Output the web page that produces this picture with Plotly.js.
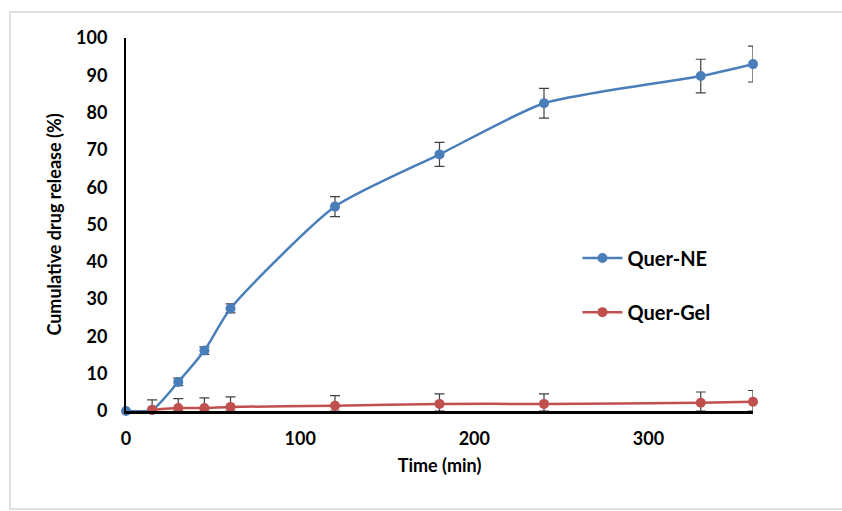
<!DOCTYPE html>
<html>
<head>
<meta charset="utf-8">
<script src="https://cdn.plot.ly/plotly-3.0.1.min.js"></script>
<style>html,body{margin:0;padding:0;background:#fff;}#chart{width:842px;height:511px;}</style>
</head>
<body>
<div id="chart"></div>
<script>
const timeNE = [0, 15, 30, 45, 60, 120, 180, 240, 330, 360];
const releaseNE = [0, 0.3, 7.8, 16.2, 27.5, 54.8, 68.8, 82.5, 89.8, 93.0];
const errNE = [0, 0, 1.0, 1.0, 1.2, 2.7, 3.2, 4.0, 4.5, 4.8];

const timeGel = [15, 30, 45, 60, 120, 180, 240, 330, 360];
const releaseGel = [0.3, 0.8, 0.8, 1.1, 1.4, 1.9, 1.9, 2.2, 2.5];
const errGel = [2.7, 2.5, 2.7, 2.7, 2.7, 2.7, 2.7, 2.9, 3.0];

const xTicks = [0, 100, 200, 300];
const yTicks = [0, 10, 20, 30, 40, 50, 60, 70, 80, 90, 100];

const FONT = 'Lato, "Open Sans", sans-serif';
const blue = '#4A7EBB';
const red = '#C0504D';

const traces = [
  {
    x: timeNE, y: releaseNE, name: 'Quer-NE', type: 'scatter', mode: 'lines+markers',
    line: {color: blue, width: 2.5, shape: 'spline', smoothing: 0.6},
    marker: {color: blue, size: 10},
    error_y: {type: 'data', array: errNE, visible: true, color: '#404040', thickness: 1.2, width: 5},
    cliponaxis: false, legend: 'legend'
  },
  {
    x: timeGel, y: releaseGel, name: 'Quer-Gel', type: 'scatter', mode: 'lines+markers',
    line: {color: red, width: 2.5, shape: 'spline', smoothing: 0.6},
    marker: {color: red, size: 10},
    error_y: {type: 'data', array: errGel, arrayminus: releaseGel.map((v, i) => Math.min(v, errGel[i])),
              visible: true, color: '#404040', thickness: 1.2, width: 5},
    cliponaxis: false, legend: 'legend2'
  }
];

const tickFont = {family: FONT, size: 18, color: '#000', weight: 'bold'};
const legFont = {family: FONT, size: 20, color: '#000', weight: 'bold'};

const layout = {
  width: 842, height: 511,
  margin: {l: 126, r: 89, t: 38, b: 100},
  paper_bgcolor: '#ffffff', plot_bgcolor: '#ffffff',
  font: {family: FONT, color: '#000', size: 14},
  xaxis: {
    range: [0, 360], tickvals: xTicks, ticktext: xTicks.map(String),
    showgrid: false, zeroline: false, showline: true, linecolor: '#000', linewidth: 2.5,
    ticks: '', ticklabelstandoff: 10, tickfont: tickFont,
    title: {text: 'Time (min)', font: {family: FONT, size: 18, color: '#000', weight: 'bold'}, standoff: 12}
  },
  yaxis: {
    range: [0, 100], tickvals: yTicks, ticktext: yTicks.map(String),
    showgrid: false, zeroline: false, showline: true, linecolor: '#000', linewidth: 2,
    ticks: '', ticklabelstandoff: 13, tickfont: tickFont,
    title: {text: 'Cumulative drug release (%)', font: {family: FONT, size: 18, color: '#000', weight: 'bold'}, standoff: 10}
  },
  legend: {x: 0.72, y: 0.41, xanchor: 'left', yanchor: 'middle', bgcolor: 'rgba(0,0,0,0)',
           font: legFont, itemwidth: 40},
  legend2: {x: 0.72, y: 0.265, xanchor: 'left', yanchor: 'middle', bgcolor: 'rgba(0,0,0,0)',
           font: legFont, itemwidth: 40},
  shapes: [
    {type: 'rect', xref: 'paper', yref: 'paper', x0: -0.185, x1: 1.5, y0: -0.263, y1: 1.0697,
     line: {color: '#e0e0e0', width: 2}, fillcolor: 'rgba(0,0,0,0)', layer: 'below'}
  ],
  showlegend: true
};

Plotly.newPlot('chart', traces, layout, {displayModeBar: false, staticPlot: true});
</script>
</body>
</html>
